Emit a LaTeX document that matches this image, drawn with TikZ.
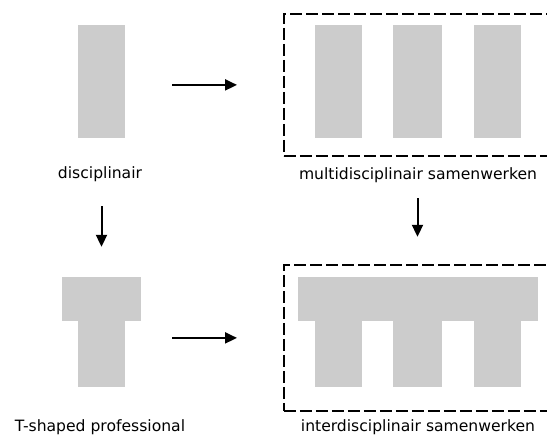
\documentclass[tikz,border=0pt]{standalone}
\usepackage{fontspec}
\setmainfont{DejaVu Sans}
\usetikzlibrary{arrows.meta}
\definecolor{bargrey}{HTML}{CCCCCC}

\begin{document}
\begin{tikzpicture}[x=1pt, y=-1pt, inner sep=0pt]
		\tikzstyle{every node}=[font=\fontsize{15.6}{18}\selectfont]
		\tikzstyle{bar}=[fill=bargrey, minimum width=47pt]
		\tikzstyle{group}=[draw, line width=1.8pt, dash pattern=on 12pt off 4pt]
		\tikzstyle{arr}=[line width=2pt, -{Triangle[length=12pt, width=11pt]}]
		\useasboundingbox (0,0) rectangle (547,437);
		\clip (0,0) rectangle (547,437);

			% disciplinair
			\node[bar, minimum height=113pt] (disc) at (101.5,81.5) {};
			\node (disclabel) at (100,174) {disciplinair};

			% multidisciplinair samenwerken
			\node[group, minimum width=290pt, minimum height=142pt, anchor=north west] (multi) at (283,13) {};
			\node[bar, minimum height=113pt] (m1) at (338.5,81.5) {};
			\node[bar, minimum height=113pt, minimum width=49pt] (m2) at (417.5,81.5) {};
			\node[bar, minimum height=113pt] (m3) at (497.5,81.5) {};
			\node (multilabel) at (418,175) {multidisciplinair samenwerken};

			% T-shaped professional
			\node[bar, minimum width=79pt, minimum height=44pt] (ttop) at (101.5,299) {};
			\node[bar, minimum height=66pt] (tstem) at (101.5,354) {};
			\node (tlabel) at (100,427) {T-shaped professional};

			% interdisciplinair samenwerken
			\node[group, minimum width=290pt, minimum height=146pt, anchor=north west] (inter) at (283,264) {};
			\node[bar, minimum width=240pt, minimum height=44pt] (ibar) at (418,299) {};
			\node[bar, minimum height=66pt] (i1) at (338.5,354) {};
			\node[bar, minimum height=66pt, minimum width=49pt] (i2) at (417.5,354) {};
			\node[bar, minimum height=66pt] (i3) at (497.5,354) {};
			\node (interlabel) at (418,427) {interdisciplinair samenwerken};

			\draw[arr, shorten <=47pt, shorten >=46pt] (disc.east |- multi.west) to (multi.west);
			\draw[arr, shorten <=47pt, shorten >=46pt] (tstem.east |- inter.west) to (inter.west);
			\draw[arr, shorten <=68pt, shorten >=30pt] (disc.south) to (ttop.north);
			\draw[arr, shorten <=60pt, shorten >=40pt] (m2.south) to (m2.south |- ibar.north);
		\end{tikzpicture}
\end{document}
